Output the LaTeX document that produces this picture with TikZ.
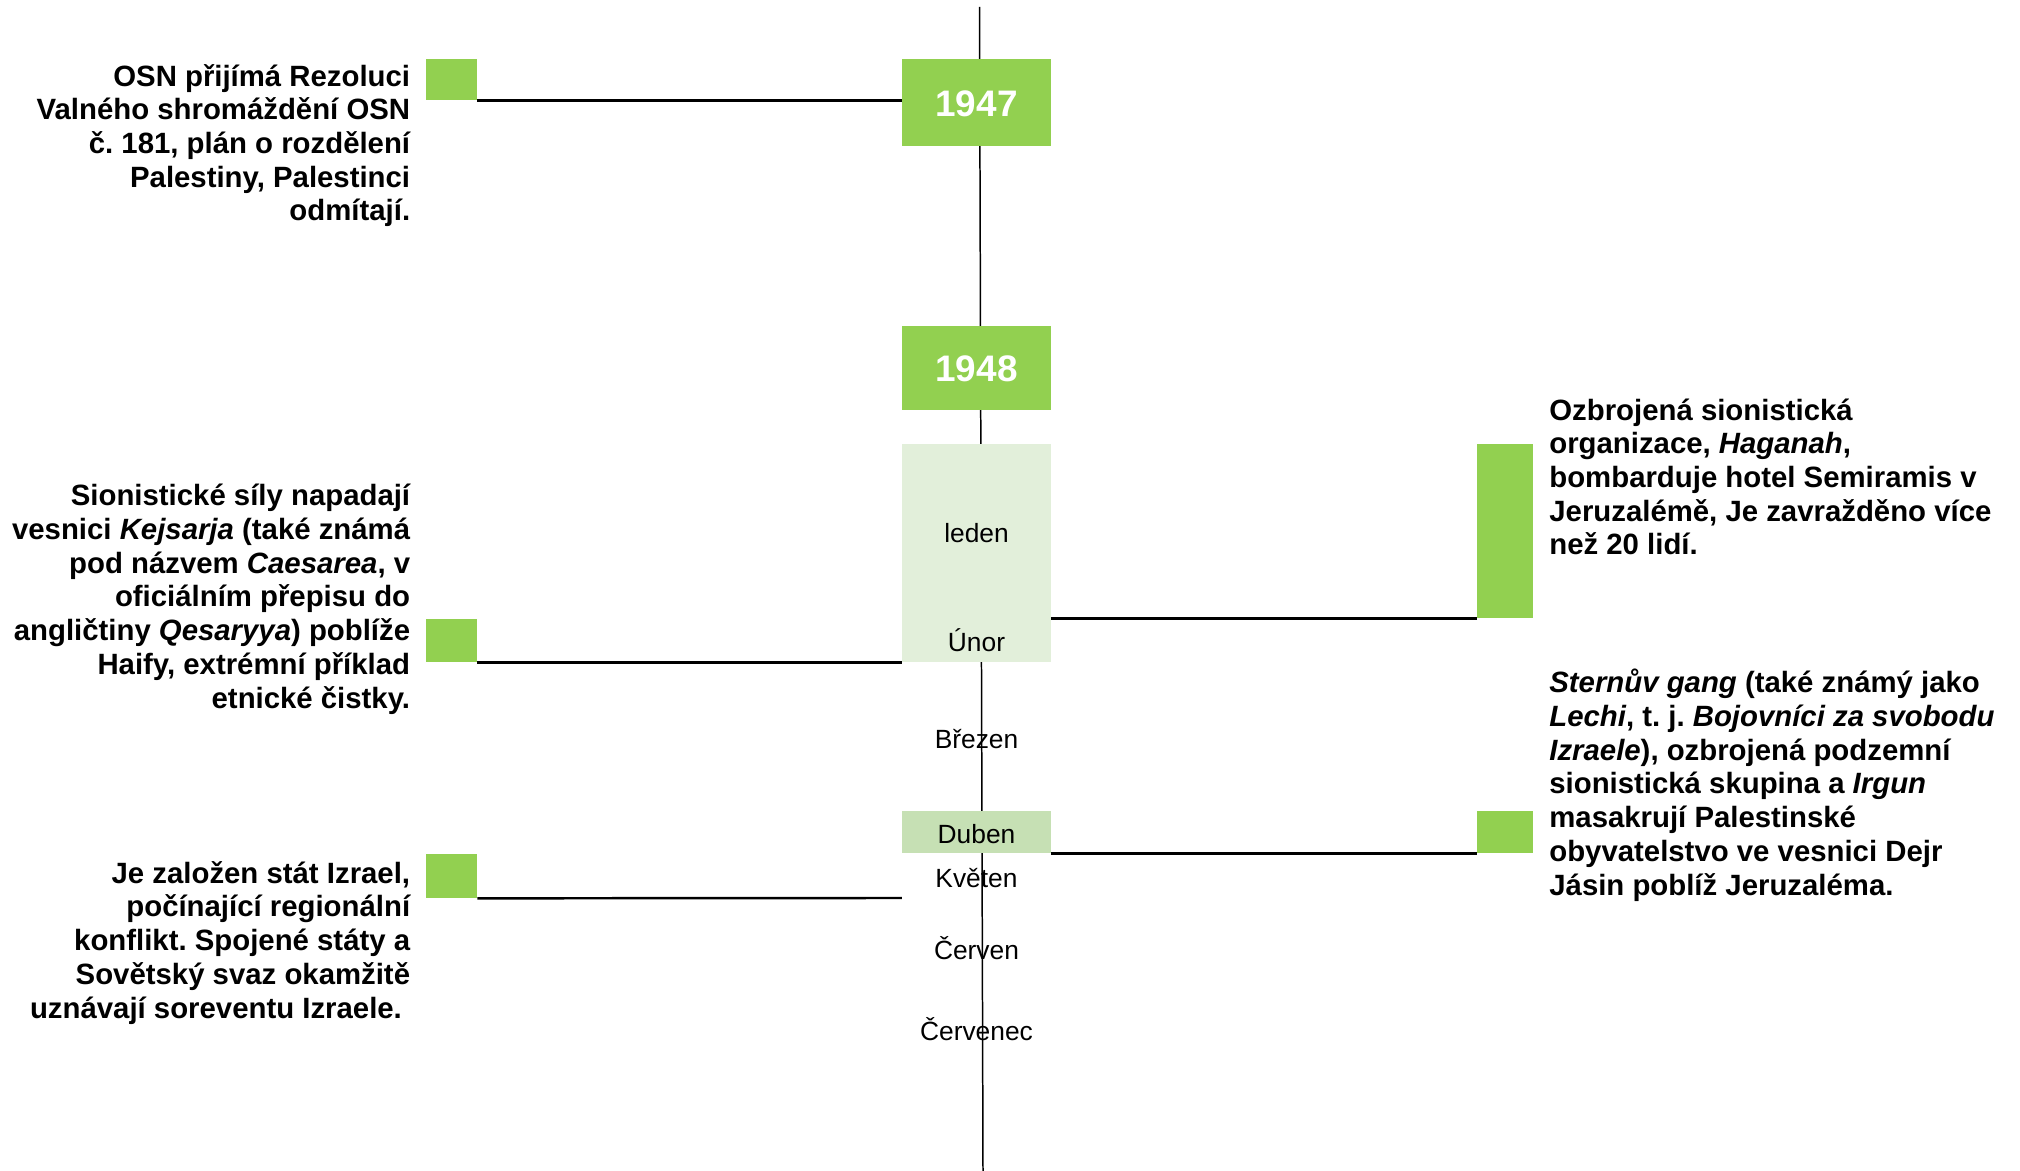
\documentclass[tikz,border=0pt]{standalone}
\usepackage{fontspec}
\setmainfont{Liberation Sans}
\usepackage{tikz}
\definecolor{leaf}{RGB}{146,208,80}
\definecolor{paleleaf}{RGB}{226,239,218}
\definecolor{midleaf}{RGB}{198,224,180}
\frenchspacing

\begin{document}
\begin{tikzpicture}[scale=0.2]
\tikzstyle{every node}+=[inner sep=0pt]
\tikzstyle{yearbox}=[fill=leaf, minimum width=2.98cm, text=white, text height=0.72em, text depth=0pt, font=\fontsize{21}{25}\selectfont\bfseries]
\tikzstyle{flag}=[fill=leaf, minimum width=1.02cm]
\tikzstyle{rflag}=[fill=leaf, minimum width=1.12cm]
\tikzstyle{month}=[text height=0.72em, text depth=0pt, font=\fontsize{15}{18}\selectfont]
\tikzstyle{note}=[font=\fontsize{16.7}{19.2}\selectfont\bfseries]
\tikzstyle{conn}=[black, line width=1.4pt]
\useasboundingbox (0,0) rectangle (202,-117.1);
% time axis
\draw [black, line width=0.85pt] (97.95,-0.7) -- (98.3,-117.1);
% years and months
\node [yearbox, minimum height=1.74cm] (y47) at (97.65,-10.25) {};
\node [yearbox] (y47t) at (97.65,-11.0) {1947};
\node [yearbox, minimum height=1.68cm] (y48) at (97.65,-36.8) {};
\node [yearbox] (y48t) at (97.65,-37.55) {1948};
\node [fill=paleleaf, minimum width=2.98cm, minimum height=4.36cm] (jan) at (97.65,-55.3) {};
\node [fill=midleaf, minimum width=2.98cm, minimum height=0.84cm] (apr) at (97.65,-83.2) {};
\node [month] (m1) at (97.65,-53.6) {leden};
\node [month] (m2) at (97.65,-64.5) {Únor};
\node [month] (m3) at (97.65,-74.2) {Březen};
\node [month] (m4) at (97.65,-83.7) {Duben};
\node [month] (m5) at (97.65,-88.1) {Květen};
\node [month] (m6) at (97.65,-95.3) {Červen};
\node [month] (m7) at (97.65,-103.4) {Červenec};
% left events
\node [flag, minimum height=0.82cm] (f1) at (45.15,-7.95) {};
\node [flag, minimum height=0.86cm] (f2) at (45.15,-64.05) {};
\node [flag, minimum height=0.88cm] (f3) at (45.15,-87.6) {};
\coordinate (e3) at (90.2,-89.8);
\draw [conn] (f1.south east) -- (f1.south east -| y47.west);
\draw [conn] (f2.south east) -- (f2.south east -| jan.west);
\draw [conn] (f3.south east) -- (e3);
\node [note, align=right, anchor=base east] (t1) at (41.05,-22.1) {OSN přijímá Rezoluci\\Valného shromáždění OSN\\č. 181, plán o rozdělení\\Palestiny, Palestinci\\odmítají.};
\node [note, align=right, anchor=base east] (t2) at (41.05,-70.8) {Sionistické síly napadají\\vesnici \textit{Kejsarja} (také známá\\pod názvem \textit{Caesarea}, v\\oficiálním přepisu do\\angličtiny \textit{Qesaryya}) poblíže\\Haify, extrémní příklad\\etnické čistky.};
\node [note, align=right, anchor=base east] (t3) at (41.05,-101.8) {Je založen stát Izrael,\\počínající regionální\\konflikt. Spojené státy a\\Sovětský svaz okamžitě\\uznávají soreventu Izraele.\hspace*{0.28em}};
% right events
\node [rflag, minimum height=3.48cm] (h1) at (150.5,-53.1) {};
\node [rflag, minimum height=0.84cm] (h2) at (150.5,-83.2) {};
\draw [conn] (jan.east |- h1.south west) -- (h1.south west);
\draw [conn] (apr.south east) -- (h2.south west);
\node [note, align=left, anchor=base west] (t4) at (154.9,-55.5) {Ozbrojená sionistická\\organizace, \textit{Haganah},\\bombarduje hotel Semiramis v\\Jeruzalémě, Je zavražděno více\\než 20 lidí.};
\node [note, align=left, anchor=base west] (t5) at (154.9,-89.5) {\textit{Sternův gang} (také známý jako\\\textit{Lechi}, t. j. \textit{Bojovníci za svobodu}\\\textit{Izraele}), ozbrojená podzemní\\sionistická skupina a \textit{Irgun}\\masakrují Palestinské\\obyvatelstvo ve vesnici Dejr\\Jásin poblíž Jeruzaléma.};
\end{tikzpicture}
\end{document}
